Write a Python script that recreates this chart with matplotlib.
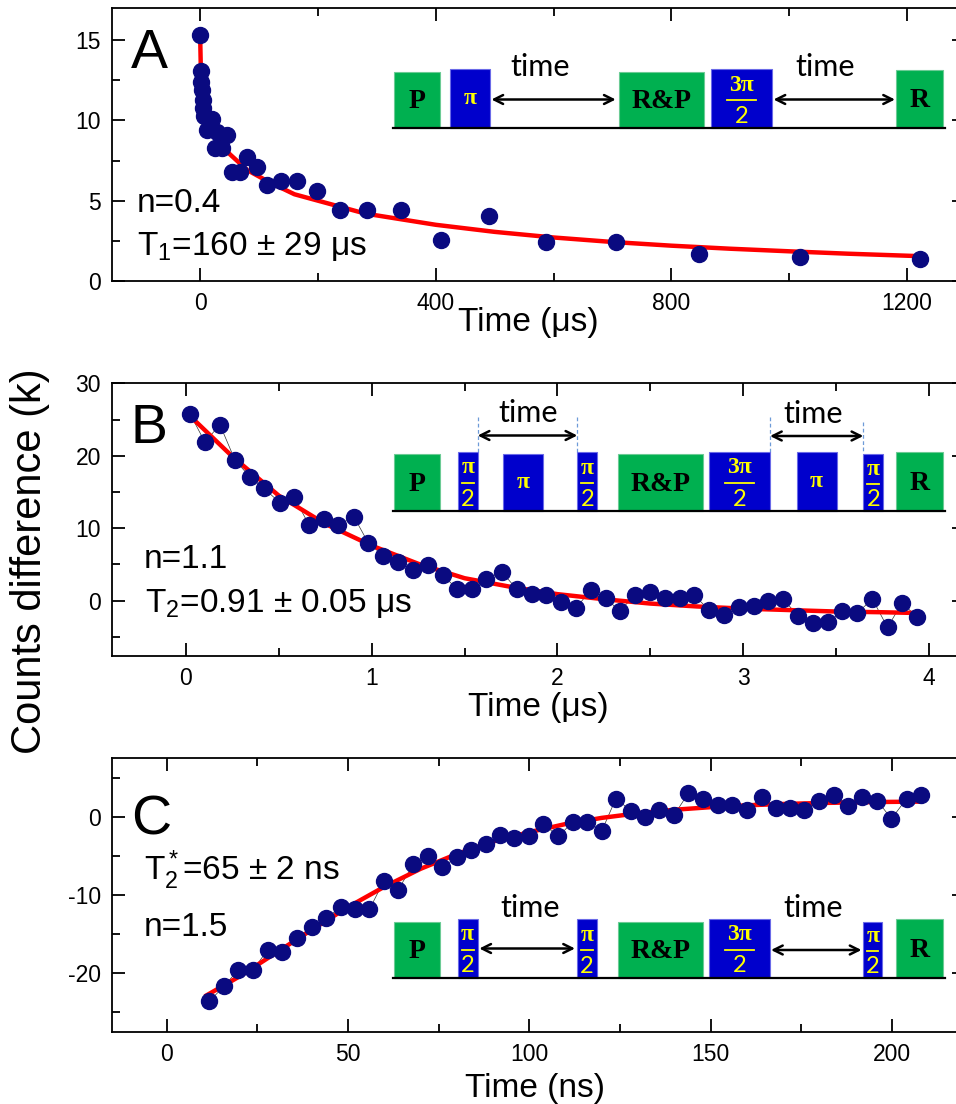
import matplotlib
matplotlib.use('Agg')
import matplotlib.pyplot as plt
from matplotlib.patches import Rectangle
from matplotlib.ticker import MultipleLocator

plt.rcParams['font.family'] = ['Liberation Sans', 'DejaVu Sans']
plt.rcParams['mathtext.fontset'] = 'custom'
plt.rcParams['mathtext.rm'] = 'Liberation Sans'
plt.rcParams['mathtext.it'] = 'Liberation Sans:italic'
plt.rcParams['mathtext.default'] = 'regular'
plt.rcParams['axes.unicode_minus'] = False

# panel A - T1 relaxation (time in us, counts difference in k)
t1_time = [0, 1, 2, 3, 4, 5, 6, 11, 20, 25, 28, 37, 45, 54, 68, 79, 96, 113, 137,
           165, 198, 237, 283, 341, 409, 491, 588, 706, 847, 1019, 1222]
t1_counts = [15.3, 13.1, 12.4, 11.9, 11.3, 10.8, 10.3, 9.4, 10.1, 8.3, 9.3, 8.3, 9.1,
             6.8, 6.8, 7.75, 7.1, 6.0, 6.2, 6.25, 5.6, 4.45, 4.45, 4.45, 2.56, 4.06,
             2.4, 2.45, 1.7, 1.52, 1.35]
t1_fit_time = [0, 1, 3, 6, 10, 20, 30, 50, 80, 120, 160, 200, 280, 400, 500, 600,
               700, 800, 900, 1000, 1100, 1220]
t1_fit_counts = [14.8, 13.0, 12.1, 11.3, 10.6, 9.6, 8.9, 7.9, 6.9, 6.1, 5.4, 5.0, 4.2,
                 3.5, 3.06, 2.71, 2.43, 2.2, 2.01, 1.85, 1.70, 1.55]

# panel B - T2 echo (time in us)
t2_time = [0.022, 0.102, 0.183, 0.264, 0.344, 0.421, 0.506, 0.583, 0.664, 0.743,
           0.820, 0.904, 0.981, 1.062, 1.143, 1.220, 1.301, 1.382, 1.460, 1.538,
           1.618, 1.703, 1.780, 1.861, 1.941, 2.018, 2.099, 2.180, 2.259, 2.336,
           2.417, 2.497, 2.578, 2.659, 2.734, 2.817, 2.896, 2.978, 3.057, 3.134,
           3.215, 3.296, 3.376, 3.457, 3.534, 3.615, 3.696, 3.777, 3.855, 3.933]
t2_counts = [25.8, 21.9, 24.3, 19.4, 17.1, 15.5, 13.5, 14.25, 10.4, 11.3,
             10.4, 11.6, 8.0, 6.2, 5.3, 4.25, 4.95, 3.55, 1.6, 1.6,
             3.0, 3.9, 1.6, 0.9, 0.8, -0.2, -1.05, 1.5, 0.3, -1.4,
             0.75, 1.15, 0.3, 0.3, 0.8, -1.3, -2.0, -0.9, -0.8, -0.05,
             0.2, -2.1, -3.1, -3.0, -1.4, -1.65, 0.2, -3.7, -0.3, -2.2]
t2_fit_time = [0.03, 0.25, 0.5, 0.75, 1.0, 1.25, 1.5, 1.75, 2.0, 2.25, 2.5, 2.75,
               3.0, 3.25, 3.5, 3.75, 3.93]
t2_fit_counts = [25.3, 19.9, 14.5, 10.6, 7.6, 5.1, 3.1, 1.9, 0.9, 0.2, -0.4, -0.8,
                 -1.1, -1.3, -1.5, -1.6, -1.7]

# panel C - T2* Ramsey (time in ns)
t2s_time = [11.75, 15.9, 19.75, 23.9, 27.8, 31.9, 36.0, 40.0, 43.9, 48.0, 51.9,
            55.9, 59.9, 63.9, 68.0, 72.0, 76.0, 80.0, 83.9, 88.0, 91.9, 95.9,
            100.0, 103.9, 108.0, 112.0, 116.0, 120.0, 123.9, 128.0, 131.9, 135.9,
            139.9, 143.9, 147.8, 152.0, 156.0, 160.0, 164.1, 168.0, 171.9, 175.8,
            180.0, 184.0, 188.0, 191.9, 196.0, 199.9, 204.1, 208.0]
t2s_counts = [-23.65, -21.7, -19.6, -19.6, -17.1, -17.35, -15.6, -14.1, -13.05, -11.6,
              -11.9, -11.9, -8.25, -9.35, -6.1, -5.05, -6.5, -5.2, -4.3, -3.55,
              -2.4, -2.7, -2.55, -0.95, -2.55, -0.7, -0.7, -1.85, 2.3, 0.75,
              -0.1, 0.8, 0.15, 3.0, 2.3, 1.5, 1.5, 0.8, 2.5, 1.1,
              1.1, 0.8, 2.05, 2.7, 1.4, 2.5, 2.05, -0.3, 2.3, 2.7]
t2s_fit_time = [11, 20, 30, 40, 50, 60, 70, 80, 90, 100, 110, 120, 130, 140, 150,
                160, 170, 180, 190, 200, 208]
t2s_fit_counts = [-22.9, -20.5, -17.5, -14.5, -11.6, -9.0, -6.7, -4.8, -3.2, -2.0,
                  -0.96, -0.17, 0.42, 0.87, 1.2, 1.44, 1.61, 1.73, 1.82, 1.88, 1.91]

W, H = 956, 1104
DOT = '#0A0A80'
GREEN = '#00B050'
BLUE = '#0000CC'
YELLOW = '#FFFF00'

fig = plt.figure(figsize=(W / 100, H / 100), dpi=100)


def make_axes(top, bottom, left=112, right=965):
    return fig.add_axes([left / W, 1 - bottom / H, (right - left) / W, (bottom - top) / H])


def style_axes(ax, xmaj, xmin, ymaj, ymin):
    ax.xaxis.set_major_locator(MultipleLocator(xmaj))
    ax.xaxis.set_minor_locator(MultipleLocator(xmin))
    ax.yaxis.set_major_locator(MultipleLocator(ymaj))
    ax.yaxis.set_minor_locator(MultipleLocator(ymin))
    ax.tick_params(which='both', direction='in', top=True, right=True, width=1.3,
                   labelsize=16.5)
    ax.tick_params(which='major', length=9.5)
    ax.tick_params(which='minor', length=5.5)
    ax.tick_params(axis='x', pad=8)
    ax.tick_params(axis='y', pad=8)
    for s in ax.spines.values():
        s.set_linewidth(1.3)


def draw_data(ax, t, v, tf, vf, joined=True):
    if joined:
        ax.plot(t, v, '-', color='#333333', lw=0.5, zorder=1)
    ax.plot(tf, vf, '-', color='#FF0000', lw=3.2, zorder=2)
    ax.plot(t, v, 'o', ms=11.5, color=DOT, mec=DOT, zorder=3)


axA = make_axes(8, 281)
draw_data(axA, t1_time, t1_counts, t1_fit_time, t1_fit_counts, joined=False)
axA.set_xlim(-150, 1299)
axA.set_ylim(0, 17)
style_axes(axA, 400, 200, 5, 2.5)

axB = make_axes(383, 656)
draw_data(axB, t2_time, t2_counts, t2_fit_time, t2_fit_counts)
axB.set_xlim(-0.398, 4.194)
axB.set_ylim(-7.64, 30.05)
style_axes(axB, 1, 0.5, 10, 5)

axC = make_axes(758, 1032)
draw_data(axC, t2s_time, t2s_counts, t2s_fit_time, t2s_fit_counts)
axC.set_xlim(-15.1, 220.2)
axC.set_ylim(-27.6, 7.5)
style_axes(axC, 50, 25, 10, 5)

for ax, letter, yb in [(axA, 'A', 0.780), (axB, 'B', 0.779), (axC, 'C', 0.722)]:
    ax.text(0.022, yb, letter, transform=ax.transAxes, size=40, va='baseline')

# overlay in pixel coordinates for labels and pulse schematics
ov = fig.add_axes([0, 0, 1, 1], zorder=10)
ov.set_xlim(0, W)
ov.set_ylim(H, 0)
ov.axis('off')
ov.patch.set_alpha(0)

ann = dict(size=24, ha='left', va='baseline')
ov.text(137, 212, 'n=0.4', **ann)
ov.text(137, 255, 'T$_1$=160 ± 29 μs', **ann)
ov.text(144, 568, 'n=1.1', **ann)
ov.text(145, 612, 'T$_2$=0.91 ± 0.05 μs', **ann)
ov.text(144, 880, 'T$_2^*$=65 ± 2 ns', **ann)
ov.text(144, 936, 'n=1.5', **ann)

ov.text(528, 331, 'Time (μs)', size=24, ha='center', va='baseline')
ov.text(538, 716, 'Time (μs)', size=24, ha='center', va='baseline')
ov.text(535, 1097, 'Time (ns)', size=24, ha='center', va='baseline')
ov.text(30, 561, 'Counts difference (k)', size=30, rotation=90, ha='center', va='center')


def pulse(x0, x1, top, base, kind):
    green = kind in ('P', 'R&P', 'R')
    ov.add_patch(Rectangle((x0, top), x1 - x0, base - top,
                           facecolor=GREEN if green else BLUE,
                           edgecolor='#6CCB95' if green else '#6A6AE8', lw=0.8, zorder=5))
    xc = (x0 + x1) / 2
    h = base - top
    serif = dict(family='Liberation Serif', weight='bold', ha='center', va='center', zorder=6)
    if green:
        ov.text(xc, top + h * 0.53, kind, size=20, **serif)
    elif kind == 'pi':
        ov.text(xc, top + h * 0.5, 'π', size=17, color=YELLOW, **serif)
    else:
        num = 'π' if kind == 'pi/2' else '3π'
        half = (x1 - x0) * (0.3 if kind == 'pi/2' else 0.24)
        ov.text(xc, top + h * 0.27, num, size=17, color=YELLOW, **serif)
        ov.plot([xc - half, xc + half], [top + h * 0.53] * 2, color=YELLOW, lw=1.3, zorder=6)
        ov.text(xc, top + h * 0.80, '2', size=17, color=YELLOW, family=['Lato', 'DejaVu Sans'],
                ha='center', va='center', zorder=6)


def span(x0, x1, y, ty, tx=None):
    ov.annotate('', xy=(x1, y), xytext=(x0, y),
                arrowprops=dict(arrowstyle='<->', lw=1.8, color='black',
                                shrinkA=0, shrinkB=0, mutation_scale=16), zorder=6)
    ov.text((x0 + x1) / 2 if tx is None else tx, ty, 'time', size=22,
            family=['Lato', 'DejaVu Sans'], ha='center', va='center', zorder=6)


def baseline(y):
    ov.plot([393, 945], [y, y], color='black', lw=1.6, zorder=7)


# A: T1 sequence
bA = 128
for x0, x1, top, kind in [(394, 440, 71.7, 'P'), (450, 489.6, 69.3, 'pi'),
                          (619.3, 704.4, 71.7, 'R&P'), (710.7, 771.7, 69.3, '3pi/2'),
                          (895.7, 942.7, 70, 'R')]:
    pulse(x0, x1, top, bA, kind)
span(491.4, 615.7, 99.5, 66.7, 540)
span(773.5, 895, 99.5, 66.7, 825)
baseline(bA)

# B: echo sequence
bB = 511
for x0, x1, top, kind in [(394, 440, 454.3, 'P'), (458.3, 477.7, 451.7, 'pi/2'),
                          (503.3, 543.3, 454.3, 'pi'), (577.3, 597.3, 452.3, 'pi/2'),
                          (617.7, 702.7, 454.3, 'R&P'), (709.3, 770, 451.7, '3pi/2'),
                          (796.7, 836.7, 451.7, 'pi'), (863.3, 883.3, 454.3, 'pi/2'),
                          (896, 942.7, 451.7, 'R')]:
    pulse(x0, x1, top, bB, kind)
for x, y0 in [(477.7, 417), (577.3, 417), (770, 417), (863.3, 422)]:
    ov.plot([x, x], [y0, 452], color='#6E9BD8', lw=0.9, ls=(0, (3, 2)), zorder=4)
span(477.7, 577.3, 435.5, 413, 528)
span(770, 863.3, 436, 414, 813)
baseline(bB)

# C: Ramsey sequence
bC = 977.7
for x0, x1, top, kind in [(394, 440, 921.7, 'P'), (457.7, 477.7, 919, 'pi/2'),
                          (576.7, 597.3, 919.3, 'pi/2'), (617.7, 702.7, 921.7, 'R&P'),
                          (709.3, 770, 919, '3pi/2'), (863.3, 882.3, 921.7, 'pi/2'),
                          (896, 942.7, 919, 'R')]:
    pulse(x0, x1, top, bC, kind)
span(479.3, 575, 948.5, 908, 530)
span(771, 861.5, 950, 908, 813)
baseline(bC)

fig.savefig('out.png', dpi=100)
